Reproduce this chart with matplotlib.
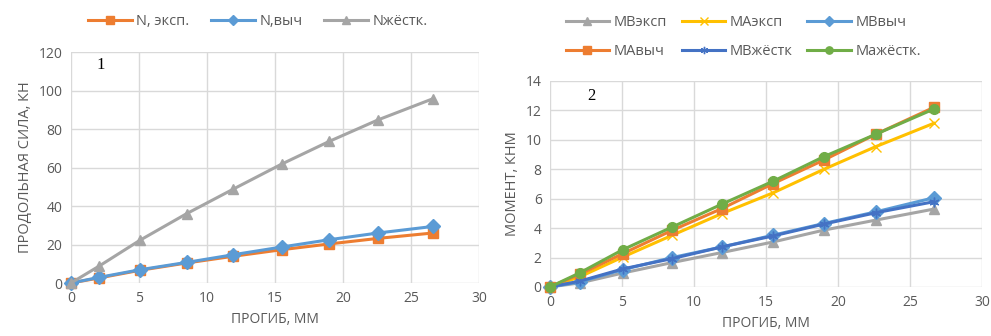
# two Excel-style charts: axial force and moments vs deflection
import matplotlib.pyplot as plt

plt.rcParams['font.family'] = ['Open Sans', 'DejaVu Sans']

# прогиб, мм
x = [0, 2.05, 5.07, 8.5, 11.94, 15.5, 19.0, 22.6, 26.64]

# график 1
n_exp = [0, 2.6, 6.6, 10.4, 13.9, 17.3, 20.3, 23.2, 26.0]
n_calc = [0, 2.9, 6.9, 10.7, 14.7, 18.7, 22.5, 26.0, 29.4]
n_rigid = [0, 8.7, 22.2, 36.0, 48.8, 61.8, 73.6, 84.8, 95.8]

# график 2
mb_exp = [0, 0.27, 0.95, 1.66, 2.34, 3.06, 3.86, 4.54, 5.29]
ma_exp = [0, 0.68, 2.04, 3.52, 4.99, 6.40, 7.99, 9.53, 11.12]
mb_calc = [0, 0.34, 1.18, 2.00, 2.72, 3.52, 4.31, 5.10, 6.06]
ma_calc = [0, 0.86, 2.27, 3.86, 5.33, 7.03, 8.62, 10.37, 12.20]
mb_rigid = [0, 0.39, 1.23, 1.93, 2.72, 3.47, 4.27, 5.04, 5.79]
ma_rigid = [0, 0.95, 2.54, 4.08, 5.63, 7.19, 8.85, 10.37, 12.09]

ORANGE = '#ED7D31'
BLUE = '#5B9BD5'
GRAY = '#A5A5A5'
YELLOW = '#FFC000'
DBLUE = '#4472C4'
GREEN = '#70AD47'
TXT = '#595959'

fig = plt.figure(figsize=(9.91, 3.36), dpi=100)
ax1 = fig.add_axes([0.0716, 0.1577, 0.4117, 0.6875])
ax2 = fig.add_axes([0.555, 0.146, 0.436, 0.613])


def style(ax, ymax, ystep):
    ax.set_xlim(0, 30)
    ax.set_ylim(0, ymax)
    ax.set_xticks(range(0, 31, 5))
    ax.set_yticks(range(0, ymax + 1, ystep))
    ax.grid(True, color='#D9D9D9', linewidth=1)
    ax.set_axisbelow(True)
    for s in ax.spines.values():
        s.set_visible(False)
    ax.tick_params(length=0, labelsize=10, labelcolor=TXT, pad=6)
    ax.set_xlabel('ПРОГИБ, ММ', fontsize=10, color=TXT)


kw = dict(linewidth=2.2, markersize=7, clip_on=False)

ax1.plot(x, n_exp, color=ORANGE, marker='s', label='N, эксп.', **kw)
ax1.plot(x, n_calc, color=BLUE, marker='D', label='N,выч', **kw)
ax1.plot(x, n_rigid, color=GRAY, marker='^', label='Nжёстк.', **kw)
style(ax1, 120, 20)
ax1.set_ylabel('ПРОДОЛЬНАЯ СИЛА, КН', fontsize=10.5, color=TXT)
ax1.text(2.2, 113, '1', family='Liberation Serif', fontsize=12, ha='center', va='center')
fig.legend(*ax1.get_legend_handles_labels(), loc='center', bbox_to_anchor=(0.26, 0.935),
           ncol=3, frameon=False, fontsize=10.5, labelcolor=TXT, handlelength=3,
           columnspacing=1.5, handletextpad=0.3, markerscale=0.75)

ax2.plot(x, mb_exp, color=GRAY, marker='^', label='МВэксп', **kw)
ax2.plot(x, ma_exp, color=YELLOW, marker='x', label='МАэксп', **kw)
ax2.plot(x, mb_calc, color=BLUE, marker='D', label='МВвыч', **kw)
ax2.plot(x, ma_calc, color=ORANGE, marker='s', label='МАвыч', **kw)
ax2.plot(x, mb_rigid, color=DBLUE, marker=(6, 2, 0), label='МВжёстк', **kw)
ax2.plot(x, ma_rigid, color=GREEN, marker='o', label='Мажёстк.', **kw)
style(ax2, 14, 2)
ax2.set_ylabel('МОМЕНТ, КНМ', fontsize=10.5, color=TXT)
ax2.text(2.9, 13.0, '2', family='Liberation Serif', fontsize=12, ha='center', va='center')
h, l = ax2.get_legend_handles_labels()
order = [0, 3, 1, 4, 2, 5]  # row-wise like Excel
fig.legend([h[i] for i in order], [l[i] for i in order], loc='center',
           bbox_to_anchor=(0.75, 0.89), ncol=3, frameon=False, fontsize=10.5,
           labelcolor=TXT, handlelength=3, columnspacing=1.0, handletextpad=0.3,
           markerscale=0.75, labelspacing=1.0)

fig.savefig('out.png', dpi=100)
